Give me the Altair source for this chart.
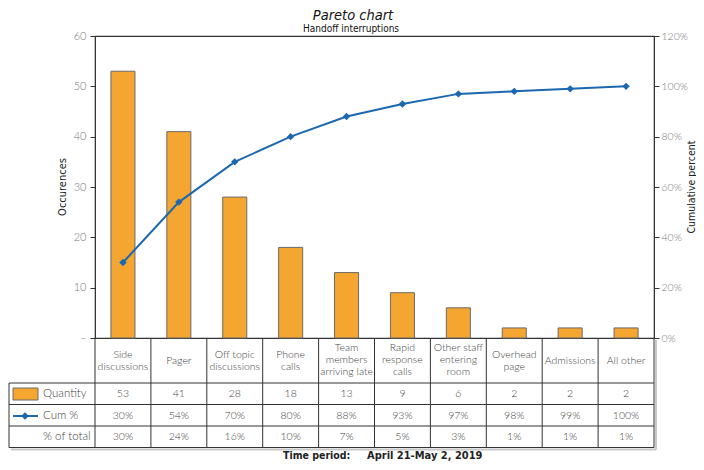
import altair as alt
import pandas as pd

categories = ["Side discussions", "Pager", "Off topic discussions", "Phone calls",
              "Team members arriving late", "Rapid response calls",
              "Other staff entering room", "Overhead page", "Admissions", "All other"]
cat_labels = ["Side\ndiscussions", "Pager", "Off topic\ndiscussions", "Phone\ncalls",
              "Team\nmembers\narriving late", "Rapid\nresponse\ncalls",
              "Other staff\nentering\nroom", "Overhead\npage", "Admissions", "All other"]
quantity = [53, 41, 28, 18, 13, 9, 6, 2, 2, 2]
cum_pct = [30, 54, 70, 80, 88, 93, 97, 98, 99, 100]
pct_total = [30, 24, 16, 10, 7, 5, 3, 1, 1, 1]
left_ticks = [0, 10, 20, 30, 40, 50, 60]
right_ticks = [0, 0.2, 0.4, 0.6, 0.8, 1.0, 1.2]

df = pd.DataFrame({
    "category": categories,
    "label": cat_labels,
    "nlines": [l.count("\n") + 1 for l in cat_labels],
    "quantity": quantity,
    "cum": [c / 100 for c in cum_pct],
    "cum_txt": [f"{c}%" for c in cum_pct],
    "tot_txt": [f"{p}%" for p in pct_total],
})

W, H = 559, 302
PAD_L, PAD_T = 87, 28
PAD_R = 688 - PAD_L - W
PAD_B = 454 - PAD_T - H
ORANGE = "#F5A630"
BLUE = "#1C68B0"
DARK = "#333333"
FONT = "Lato"
COND = "DejaVu Sans Condensed"

xenc = alt.X("category:N", sort=categories,
             scale=alt.Scale(paddingInner=0, paddingOuter=0), axis=None)
xplain = alt.X("category:N", sort=categories, axis=None)

base = alt.Chart(df)

bars = base.mark_bar(width=alt.RelativeBandSize(0.43), color=ORANGE,
                     stroke="#6a6a6a", strokeWidth=1).encode(
    x=xenc,
    y=alt.Y("quantity:Q", scale=alt.Scale(domain=[0, 60]),
            axis=alt.Axis(values=left_ticks, title=None,
                          labelExpr="datum.value == 0 ? '–' : datum.label",
                          grid=False, tickSize=5, tickColor=DARK, domainColor=DARK,
                          labelColor="#7a7a7a", labelFont=FONT, labelFontSize=11,
                          labelFontWeight=300, labelPadding=4)),
)

line = base.mark_line(color=BLUE, strokeWidth=2).encode(
    x=xplain,
    y=alt.Y("cum:Q", scale=alt.Scale(domain=[0, 1.2]),
            axis=alt.Axis(orient="right", values=right_ticks, format=".0%",
                          title=None, grid=False, tickSize=5,
                          tickColor=DARK, domainColor=DARK,
                          labelColor="#7a7a7a", labelFont=FONT, labelFontSize=10.5,
                          labelFontWeight=300, labelPadding=2)),
)
pts = base.mark_point(shape="diamond", filled=True, color=BLUE, size=55, opacity=1).encode(
    x=xplain,
    y=alt.Y("cum:Q", scale=alt.Scale(domain=[0, 1.2]), axis=None),
)

# table
LEFT = -86
ROW_TOP = 347
ROWS = [347, 368.5, 390, 411.5]
txt_kw = dict(font=FONT, fontSize=10.5, fontWeight=300, color="#444444",
              baseline="middle", align="center")

cat_layers = []
for n, ytop in [(1, 324.5), (2, 318.5), (3, 312)]:
    cat_layers.append(
        base.transform_filter(alt.datum.nlines == n)
        .mark_text(lineBreak="\n", lineHeight=12, **txt_kw).encode(
            x=xplain, y=alt.value(ytop), text="label:N"))

q_txt = base.mark_text(**txt_kw).encode(x=xplain, y=alt.value(358), text="quantity:Q")
c_txt = base.mark_text(**txt_kw).encode(x=xplain, y=alt.value(380), text="cum_txt:N")
t_txt = base.mark_text(**txt_kw).encode(x=xplain, y=alt.value(401), text="tot_txt:N")

vlines = base.mark_rule(color=DARK, strokeWidth=1).encode(
    x=alt.X("category:N", sort=categories, axis=None, bandPosition=0),
    y=alt.value(H), y2=alt.value(ROWS[-1]))

one = alt.Chart(pd.DataFrame({"a": [0]}))
hrules = alt.layer(*[
    one.mark_rule(color=DARK, strokeWidth=1).encode(
        x=alt.value(LEFT), x2=alt.value(W), y=alt.value(r))
    for r in ROWS
])
edge_lines = alt.layer(
    one.mark_rule(color=DARK, strokeWidth=1).encode(
        x=alt.value(LEFT), y=alt.value(ROW_TOP), y2=alt.value(ROWS[-1])),
    one.mark_rule(color=DARK, strokeWidth=1).encode(
        x=alt.value(W), y=alt.value(H), y2=alt.value(ROWS[-1])),
    one.mark_rule(color="#c8c8c8", strokeWidth=2).encode(
        x=alt.value(W + 2), y=alt.value(H + 2), y2=alt.value(ROWS[-1] + 2)),
    one.mark_rule(color="#c8c8c8", strokeWidth=2).encode(
        x=alt.value(LEFT + 2), x2=alt.value(W + 2), y=alt.value(ROWS[-1] + 2)),
)

lab_kw = {**txt_kw, "align": "left", "fontSize": 11.5}
legend_parts = alt.layer(
    one.mark_rect(color=ORANGE, stroke="#6a6a6a", strokeWidth=1).encode(
        x=alt.value(-82), x2=alt.value(-57), y=alt.value(352), y2=alt.value(364)),
    one.mark_rule(color=BLUE, strokeWidth=2).encode(
        x=alt.value(-82), x2=alt.value(-57), y=alt.value(380)),
    one.mark_point(shape="diamond", filled=True, color=BLUE, size=55, opacity=1).encode(
        x=alt.value(-70), y=alt.value(380)),
    one.mark_text(**lab_kw).encode(
        x=alt.value(-52), y=alt.value(358), text=alt.value("Quantity")),
    one.mark_text(**lab_kw).encode(
        x=alt.value(-52), y=alt.value(380), text=alt.value("Cum %")),
    one.mark_text(**lab_kw).encode(
        x=alt.value(-52), y=alt.value(401), text=alt.value("% of total")),
)

titles = alt.layer(
    one.mark_text(font=COND, fontSize=14.5, fontStyle="italic", color="#111111",
                  align="center", baseline="middle").encode(
        x=alt.value(258), y=alt.value(-20), text=alt.value("Pareto chart")),
    one.mark_text(font=COND, fontSize=10, fontWeight="normal", color="#111111",
                  align="center", baseline="middle").encode(
        x=alt.value(256), y=alt.value(-7.5), text=alt.value("Handoff interruptions")),
    one.mark_text(font=COND, fontSize=11, color="#222222", angle=270,
                  align="center", baseline="middle").encode(
        x=alt.value(-32), y=alt.value(151), text=alt.value("Occurences")),
    one.mark_text(font=COND, fontSize=10.5, color="#222222", angle=270,
                  align="center", baseline="middle").encode(
        x=alt.value(W + 37.5), y=alt.value(151), text=alt.value("Cumulative percent")),
    one.mark_text(font=COND, fontSize=10.5, fontWeight="bold", color="#222222",
                  align="left", baseline="middle").encode(
        x=alt.value(188), y=alt.value(420), text=alt.value("Time period:")),
    one.mark_text(font=COND, fontSize=11, fontWeight="bold", color="#222222",
                  align="left", baseline="middle").encode(
        x=alt.value(272), y=alt.value(420), text=alt.value("April 21-May 2, 2019")),
)

chart = alt.layer(
    bars, line, pts, *cat_layers, q_txt, c_txt, t_txt, vlines, hrules, edge_lines,
    legend_parts, titles
).resolve_scale(y="independent").properties(
    width=W, height=H,
    autosize=alt.AutoSizeParams(type="none"),
    padding={"left": PAD_L, "top": PAD_T, "right": PAD_R, "bottom": PAD_B},
).configure_view(stroke=DARK, strokeWidth=1.2)

chart.save("out.html", embed_options={"renderer": "svg", "actions": False})
